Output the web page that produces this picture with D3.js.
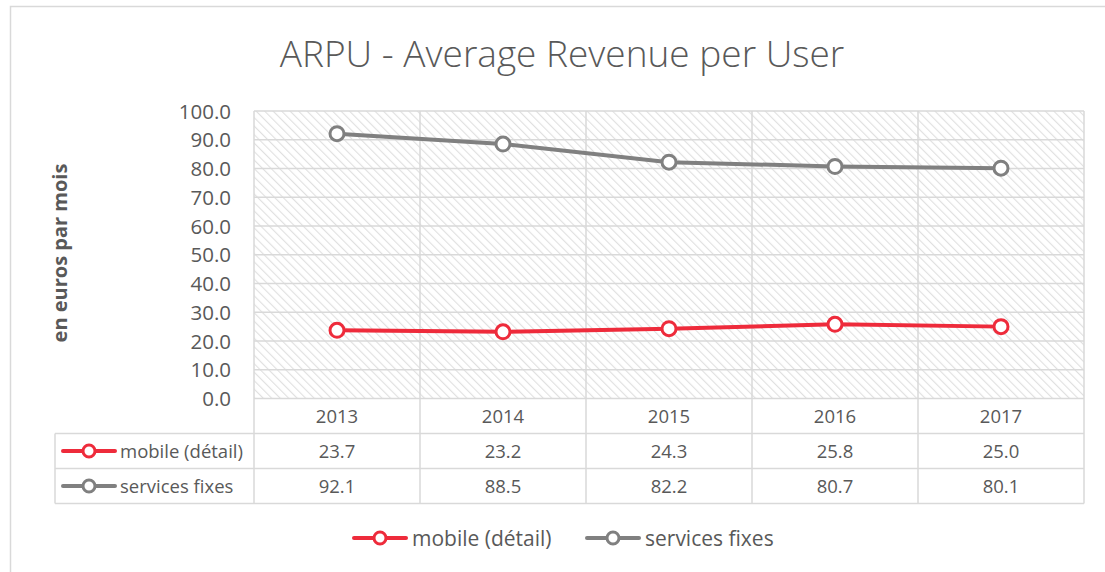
<!DOCTYPE html>
<html>
<head>
<meta charset="utf-8">
<script src="https://cdn.jsdelivr.net/npm/d3@7"></script>
<style>
  body { margin: 0; background: white; }
  text { font-family: "Open Sans", sans-serif; fill: #595959; }
</style>
</head>
<body>
<div id="chart"></div>
<script>
// Data
const years = ["2013", "2014", "2015", "2016", "2017"];
const mobile = [23.7, 23.2, 24.3, 25.8, 25.0];
const fixes = [92.1, 88.5, 82.2, 80.7, 80.1];
const yTicks = [0, 10, 20, 30, 40, 50, 60, 70, 80, 90, 100];
const seriesNames = ["mobile (détail)", "services fixes"];
const seriesColors = ["#EE2B3B", "#808080"];

const config = {
  width   : 1105,
  height  : 572,
  left    : 254,
  right   : 1084,
  top     : 111,
  bottom  : 398.5,
  rowH    : 35,
  tableLeft : 55,
  gridColor : "#d9d9d9"
};

const svg = d3.select("#chart")
  .append("svg")
    .attr("width", config.width)
    .attr("height", config.height);

// hatch pattern for the plot area
const defs = svg.append("defs");
const pat = defs.append("pattern")
    .attr("id", "hatch")
    .attr("patternUnits", "userSpaceOnUse")
    .attr("width", 6)
    .attr("height", 6)
    .attr("patternTransform", "rotate(-45)");
pat.append("rect").attr("width", 6).attr("height", 6).attr("fill", "white");
pat.append("line")
    .attr("x1", 0).attr("y1", 0).attr("x2", 0).attr("y2", 6)
    .attr("stroke", "#e0e0e0").attr("stroke-width", 2.2);

// outer chart frame
svg.append("rect")
    .attr("x", 10.5).attr("y", 6.5)
    .attr("width", 1200).attr("height", 700)
    .attr("fill", "none")
    .attr("stroke", config.gridColor)
    .attr("stroke-width", 1.5);

// title
svg.append("text")
    .attr("x", 562).attr("y", 67)
    .attr("text-anchor", "middle")
    .style("font-size", "37px")
    .style("font-weight", 300)
    .text("ARPU - Average Revenue per User");

// scales
const x = d3.scaleBand().domain(years).range([config.left, config.right]);
const y = d3.scaleLinear().domain([0, 100]).range([config.bottom, config.top]);

svg.append("rect")
    .attr("x", config.left).attr("y", config.top)
    .attr("width", config.right - config.left)
    .attr("height", config.bottom - config.top)
    .attr("fill", "url(#hatch)");

// horizontal grid
svg.append("g").selectAll("line")
  .data(yTicks)
  .enter().append("line")
    .attr("x1", config.left).attr("x2", config.right)
    .attr("y1", d => y(d)).attr("y2", d => y(d))
    .attr("stroke", config.gridColor)
    .attr("stroke-width", 1.5);

// y labels
svg.append("g").selectAll("text")
  .data(yTicks)
  .enter().append("text")
    .attr("x", 231)
    .attr("y", d => y(d) + 7.5)
    .attr("text-anchor", "end")
    .style("font-size", "20.5px")
    .text(d => d.toFixed(1));

// y axis title
svg.append("text")
    .attr("transform", "translate(67,253) rotate(-90)")
    .attr("text-anchor", "middle")
    .style("font-size", "20px")
    .style("font-weight", "bold")
    .text("en euros par mois");

// data table
const tableBottom = config.bottom + config.rowH * 3;
const colEdges = years.map(d => x(d)).concat([config.right]);

svg.append("g").selectAll("line")
  .data(colEdges)
  .enter().append("line")
    .attr("x1", d => d).attr("x2", d => d)
    .attr("y1", config.top).attr("y2", tableBottom)
    .attr("stroke", config.gridColor)
    .attr("stroke-width", 1.5);

const rowLines = [1, 2, 3];
svg.append("g").selectAll("line")
  .data(rowLines)
  .enter().append("line")
    .attr("x1", config.tableLeft).attr("x2", config.right)
    .attr("y1", d => config.bottom + d * config.rowH)
    .attr("y2", d => config.bottom + d * config.rowH)
    .attr("stroke", config.gridColor)
    .attr("stroke-width", 1.5);

svg.append("line")
    .attr("x1", config.tableLeft).attr("x2", config.tableLeft)
    .attr("y1", config.bottom + config.rowH).attr("y2", tableBottom)
    .attr("stroke", config.gridColor)
    .attr("stroke-width", 1.5);

svg.append("g").selectAll("text")
  .data(years)
  .enter().append("text")
    .attr("x", d => x(d) + x.bandwidth() / 2)
    .attr("y", config.bottom + config.rowH / 2 + 6.5)
    .attr("text-anchor", "middle")
    .style("font-size", "18.5px")
    .text(d => d);

const allSeries = [mobile, fixes];

function drawKey(g, cx, cy, color, halfLen) {
  g.append("line")
      .attr("x1", cx - halfLen).attr("x2", cx + halfLen)
      .attr("y1", cy).attr("y2", cy)
      .attr("stroke", color).attr("stroke-width", 4)
      .attr("stroke-linecap", "round");
  g.append("circle")
      .attr("cx", cx).attr("cy", cy).attr("r", 6)
      .attr("fill", "white")
      .attr("stroke", color).attr("stroke-width", 3);
}

allSeries.forEach(function (vals, i) {
  const cy = config.bottom + config.rowH * (i + 1.5);
  const row = svg.append("g");
  drawKey(row, 89, cy, seriesColors[i], 26);
  row.append("text")
      .attr("x", 120).attr("y", cy + 6.5)
      .style("font-size", "18.5px")
      .text(seriesNames[i]);
  row.selectAll(".val")
    .data(vals)
    .enter().append("text")
      .attr("class", "val")
      .attr("x", (d, j) => x(years[j]) + x.bandwidth() / 2)
      .attr("y", cy + 6.5)
      .attr("text-anchor", "middle")
      .style("font-size", "18.5px")
      .text(d => d.toFixed(1));
});

// lines and markers
const line = d3.line()
  .x((d, j) => x(years[j]) + x.bandwidth() / 2)
  .y(d => y(d));

allSeries.forEach(function (vals, i) {
  svg.append("path")
      .datum(vals)
      .attr("d", line)
      .attr("fill", "none")
      .attr("stroke", seriesColors[i])
      .attr("stroke-width", 4)
      .attr("stroke-linejoin", "round");
  svg.append("g").selectAll("circle")
    .data(vals)
    .enter().append("circle")
      .attr("cx", (d, j) => x(years[j]) + x.bandwidth() / 2)
      .attr("cy", d => y(d))
      .attr("r", 7)
      .attr("fill", "white")
      .attr("stroke", seriesColors[i])
      .attr("stroke-width", 3);
});

// bottom legend
const legendPos = [380, 613];
seriesNames.forEach(function (name, i) {
  const g = svg.append("g");
  drawKey(g, legendPos[i], 538, seriesColors[i], 26);
  g.append("text")
      .attr("x", legendPos[i] + 32).attr("y", 545.5)
      .style("font-size", "21px")
      .text(name);
});
</script>
</body>
</html>
